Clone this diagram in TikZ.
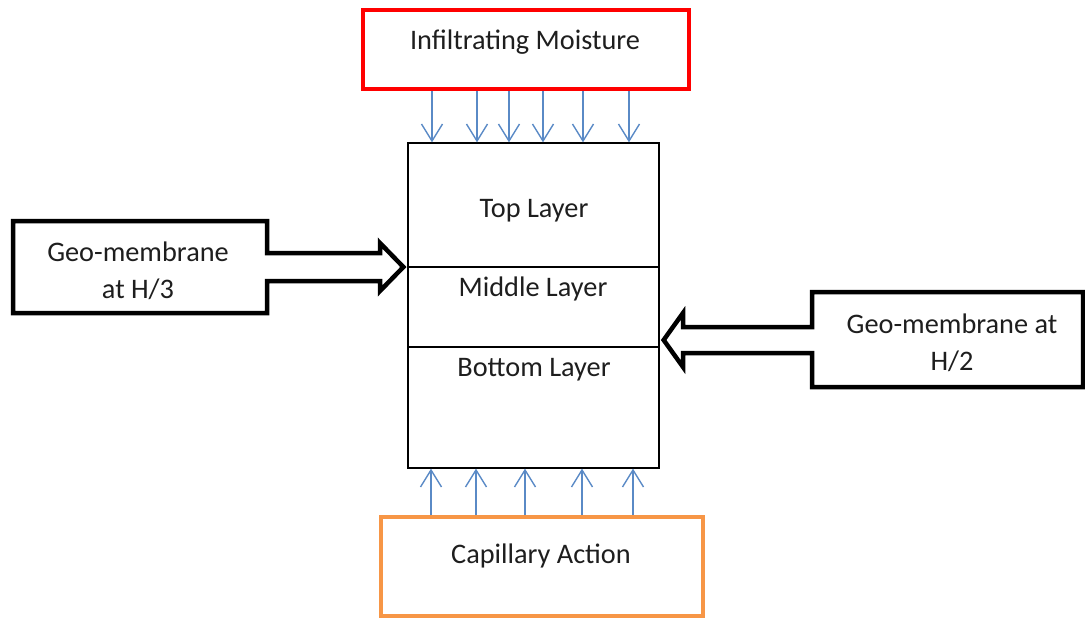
\documentclass[tikz,border=0pt]{standalone}
\usepackage{fontspec}
\setmainfont{Carlito}
\usetikzlibrary{arrows.meta}
\definecolor{srcred}{HTML}{FF0000}
\definecolor{capor}{HTML}{F79646}
\definecolor{flowblue}{HTML}{5A8AC6}
\definecolor{txt}{HTML}{1E1E1E}
\begin{document}
\begin{tikzpicture}[x=1pt,y=-1pt,
  lbl/.style={font=\fontsize{28.3}{36.5}\selectfont, text=txt, align=center, inner sep=0pt},
  srcbox/.style={draw=srcred, line width=4pt, inner sep=0pt},
  capbox/.style={draw=capor, line width=4pt, inner sep=0pt},
  soilbox/.style={draw=black, line width=1.3pt, inner sep=0pt},
  flow/.style={draw=flowblue, line width=1.4pt,
    -{Straight Barb[length=17pt,width=21pt,line width=1.4pt]}},
  callout/.style={draw=black, line width=4.5pt, line join=miter, fill=white}]
\useasboundingbox (0,0) rectangle (1085,619);

% moisture source and capillary source
\node[srcbox, minimum width=326pt, minimum height=79pt] (moist) at (526,49.5) {};
\node[lbl] (moistlbl) at (525,42.5) {Infiltrating Moisture};
\node[capbox, minimum width=322pt, minimum height=99pt] (cap) at (542,566.5) {};
\node[lbl] (caplbl) at (541,555.5) {Capillary Action};

% soil column with its three layers
\node[soilbox, minimum width=251pt, minimum height=325pt] (soil) at (533.5,305.5) {};
\draw[line width=1.1pt] (soil.west |- 0,267) -- (soil.east |- 0,267);
\draw[line width=1.1pt] (soil.west |- 0,347) -- (soil.east |- 0,347);
\node[lbl] (top) at (534,210.5) {Top Layer};
\node[lbl] (mid) at (533,289) {Middle Layer};
\node[lbl] (bot) at (534,369.5) {Bottom Layer};

% moisture flows
\foreach \x in {432,477,509,543,583,629}
  \draw[flow] (\x,0 |- moist.south) -- (\x,0 |- soil.north);
\foreach \x in {431,476,525,582,633}
  \draw[flow] (\x,0 |- cap.north) -- (\x,0 |- soil.south);

% geo-membrane callouts pointing at the column
\coordinate (tipL) at (soil.west |- 0,267);
\coordinate (tipR) at (soil.east |- 0,340);
\draw[callout] (13,221) -- (267,221) -- (267,253) -- (380,253) -- (380,243)
  -- ([xshift=-4pt]tipL) -- (380,291) -- (380,281) -- (267,281) -- (267,313)
  -- (13,313) -- cycle;
\node[lbl] (gmL) at (138,271) {Geo-membrane\\at H/3};
\draw[callout] (1083,292) -- (812,292) -- (812,327) -- (683,327) -- (683,313)
  -- ([xshift=4pt]tipR) -- (683,367) -- (683,353) -- (812,353) -- (812,387)
  -- (1083,387) -- cycle;
\node[lbl] (gmR) at (952,343) {Geo-membrane at\\H/2};
\end{tikzpicture}
\end{document}
